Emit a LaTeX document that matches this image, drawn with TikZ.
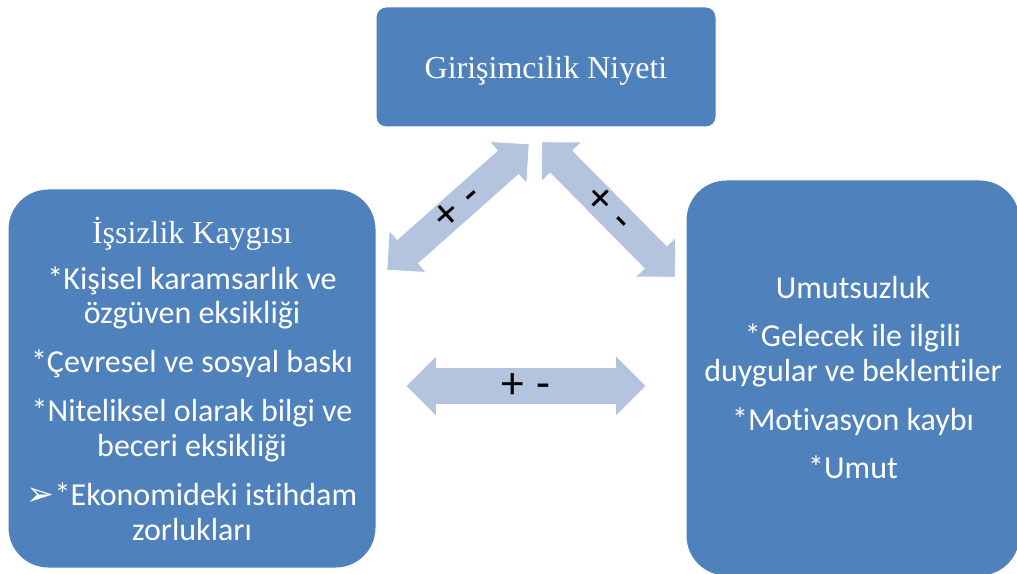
\documentclass[tikz,border=0pt]{standalone}
\usepackage{fontspec}
\setmainfont{Carlito}[Ligatures=NoCommon]
\newfontfamily\serifyazi{Liberation Serif}
\newfontfamily\simge{DejaVu Sans}
\definecolor{kutumavi}{RGB}{79,129,189}
\definecolor{okmavi}{RGB}{180,196,223}

\begin{document}
\begin{tikzpicture}[x=0.75pt, y=-0.75pt,
        kutu/.style={fill=kutumavi, draw=white, line width=0.75pt, text=white, align=center,
                font=\fontsize{24}{26}\selectfont},
        ok/.style={fill=okmavi, draw=white, line width=0.5pt},
        isaret/.style={inner sep=0pt, font=\fontsize{34}{36}\selectfont}]

    \useasboundingbox (0,0) rectangle (1017,574);
    \clip (0,0) rectangle (1017,574);

    \node[kutu, rounded corners=7.5pt, minimum width=255pt, minimum height=90pt, text depth=0pt] (niyet) at (546,67)
        {\serifyazi Girişimcilik Niyeti};
    \node[kutu, rounded corners=30pt, minimum width=276pt, minimum height=284.25pt] (kaygi) at (192,378.5)
        {{\serifyazi İşsizlik Kaygısı}\\[8.5pt]
            *Kişisel karamsarlık ve\\
            özgüven eksikliği\\[10.75pt]
            *Çevresel ve sosyal baskı\\[10.75pt]
            *Niteliksel olarak bilgi ve\\
            beceri eksikliği\\[10.75pt]
            {\simge\fontsize{25}{26}\selectfont ➢}*Ekonomideki istihdam\\
            zorlukları};
    \node[kutu, rounded corners=30pt, minimum width=250.5pt, minimum height=297pt] (umut) at (853,378)
        {Umutsuzluk\\[10pt]
            *Gelecek ile ilgili\\
            duygular ve beklentiler\\[11pt]
            *Motivasyon kaybı\\[10pt]
            *Umut};

    \foreach \ad/\mx/\my/\aci/\l/\H/\S in {ok1/458/207/41.6/95/28/16,
            ok2/608.5/209.5/-45.4/95/28/16,
            ok3/526/386/0/120/30.5/18.5}{
        \begin{scope}[shift={(\mx,\my)}, rotate=\aci]
            \draw[ok] (-\l,0) -- (-\l+\H,-\H) -- (-\l+\H,-\S) -- (\l-\H,-\S) -- (\l-\H,-\H) -- (\l,0)
                -- (\l-\H,\H) -- (\l-\H,\S) -- (-\l+\H,\S) -- (-\l+\H,\H) -- cycle;
        \end{scope}
        \node[isaret, rotate=\aci] (\ad) at (\mx,\my) {+\hspace{2pt} -};
    }
\end{tikzpicture}
\end{document}
